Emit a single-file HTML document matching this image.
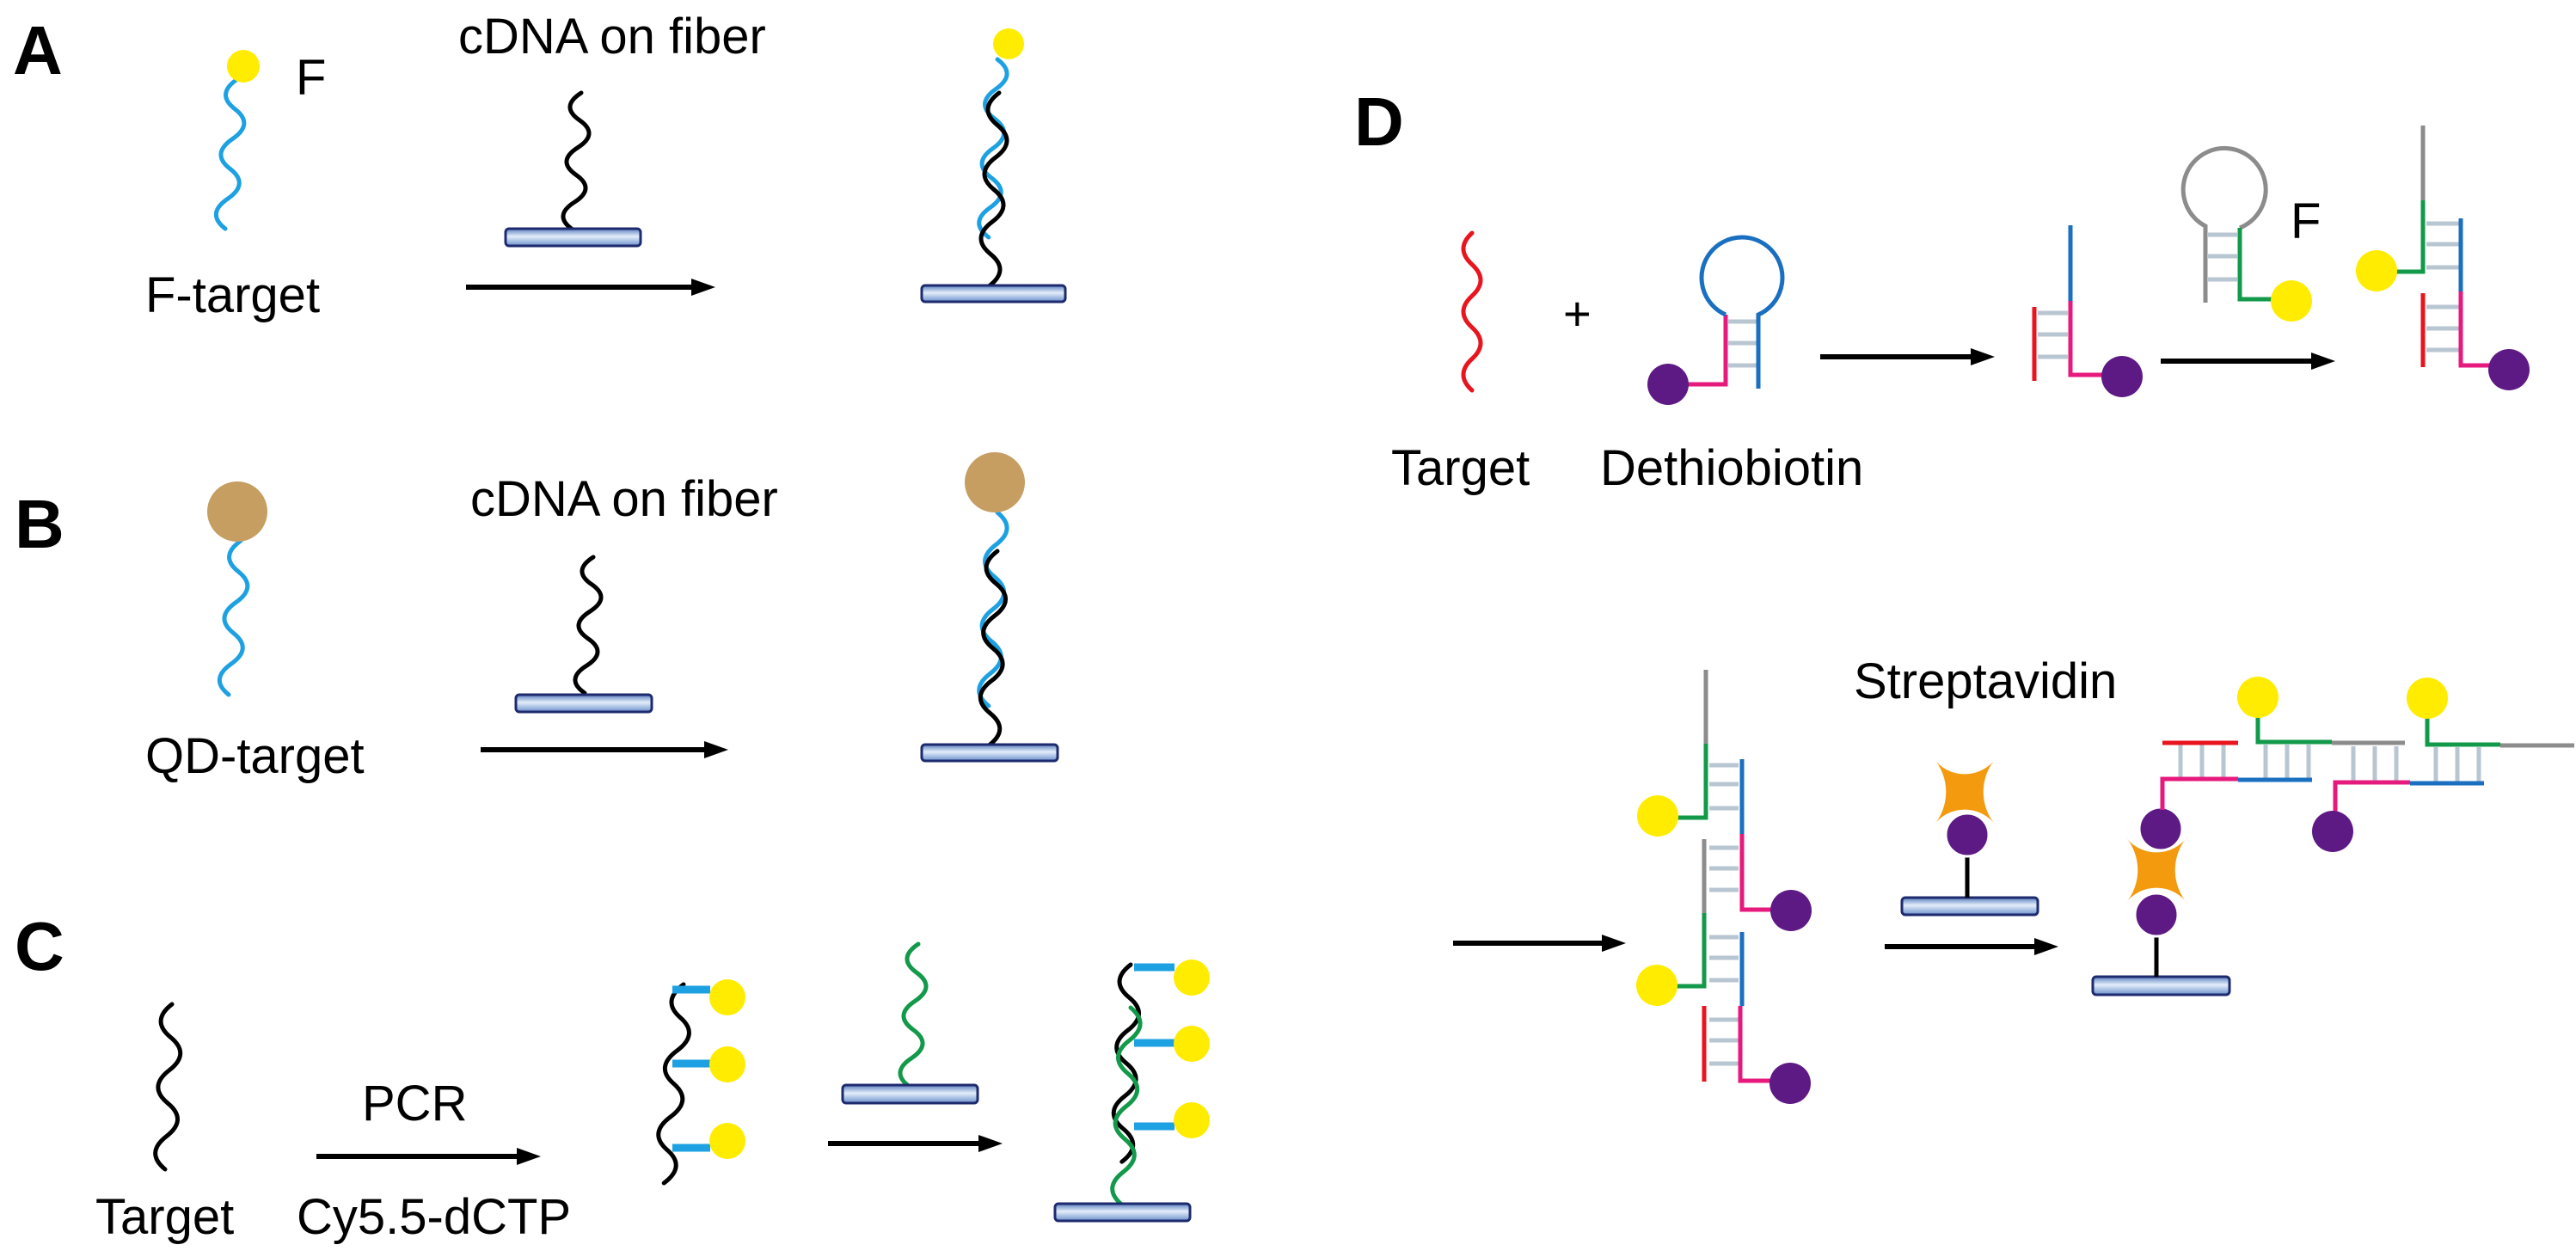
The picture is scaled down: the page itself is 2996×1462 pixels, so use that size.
<!DOCTYPE html>
<html><head><meta charset="utf-8"><style>
html,body{margin:0;padding:0;background:#fff;}
svg{display:block;}
text{font-family:"Liberation Sans",Arial,sans-serif;fill:#000;}
</style></head><body>
<svg width="2996" height="1462" viewBox="0 0 2996 1462" xmlns="http://www.w3.org/2000/svg">
<defs>
<linearGradient id="bar" x1="0" y1="0" x2="0" y2="1">
<stop offset="0" stop-color="#5a7fc0"/><stop offset="0.45" stop-color="#e4eefa"/><stop offset="1" stop-color="#6a90cc"/>
</linearGradient>
<g id="ah"><polygon points="-28,-10 0,0 -28,10" fill="#000"/></g>
</defs>
<rect width="2996" height="1462" fill="#fff"/>

<!-- text -->
<g font-size="58">
<text x="15" y="86" font-size="80" font-weight="bold">A</text>
<text x="17" y="637" font-size="80" font-weight="bold">B</text>
<text x="17" y="1128" font-size="80" font-weight="bold">C</text>
<text x="1575" y="169" font-size="80" font-weight="bold">D</text>
<text x="533" y="62">cDNA on fiber</text>
<text x="344" y="110">F</text>
<text x="169" y="363">F-target</text>
<text x="547" y="600">cDNA on fiber</text>
<text x="169" y="899">QD-target</text>
<text x="421" y="1303">PCR</text>
<text x="111" y="1435">Target</text>
<text x="345" y="1435">Cy5.5-dCTP</text>
<text x="1818" y="384" font-size="56">+</text>
<text x="2664" y="277">F</text>
<text x="1618" y="564">Target</text>
<text x="1861" y="564">Dethiobiotin</text>
<text x="2156" y="812">Streptavidin</text>
</g>

<!-- arrows -->
<g stroke="#000" stroke-width="6">
<line x1="542" y1="334" x2="808" y2="334"/>
<line x1="559" y1="872" x2="823" y2="872"/>
<line x1="368" y1="1345" x2="605" y2="1345"/>
<line x1="963" y1="1330" x2="1142" y2="1330"/>
<line x1="2117" y1="415" x2="2296" y2="415"/>
<line x1="2513" y1="420" x2="2692" y2="420"/>
<line x1="1690" y1="1097" x2="1867" y2="1097"/>
<line x1="2192" y1="1101" x2="2370" y2="1101"/>
</g>
<use href="#ah" x="832" y="334"/><use href="#ah" x="847" y="872"/>
<use href="#ah" x="629" y="1345"/><use href="#ah" x="1166" y="1330"/>
<use href="#ah" x="2320" y="415"/><use href="#ah" x="2716" y="420"/>
<use href="#ah" x="1891" y="1097"/><use href="#ah" x="2394" y="1101"/>

<!-- waves -->
<g fill="none" stroke-width="5" stroke-linecap="round">
<!-- A -->
<path stroke="#1da1e2" d="M276 92 q-25.4 17.4 -2.8 34.8 t-2.8 34.8 t-2.8 34.8 t-2.8 34.8 t-2.8 34.8"/>
<path stroke="#000" d="M676 108 q-25 15.9 -2 31.8 t-2 31.8 t-2 31.8 t-2 31.8 t-2 31.8"/>
<path stroke="#1da1e2" d="M1160 69 q23 17.25 -1.7 34.5 t-1.7 34.5 t-1.7 34.5 t-1.7 34.5 t-1.7 34.5 t-1.7 34.5"/>
<path stroke="#000" d="M1162 108 q-25 18.75 -2 37.5 t-2 37.5 t-2 37.5 t-2 37.5 t-2 37.5 t-2 37.5"/>
<!-- B -->
<path stroke="#1da1e2" d="M280 629 q-25.4 17.9 -2.8 35.8 t-2.8 35.8 t-2.8 35.8 t-2.8 35.8 t-2.8 35.8"/>
<path stroke="#000" d="M690 648 q-25 15.8 -2 31.6 t-2 31.6 t-2 31.6 t-2 31.6 t-2 31.6"/>
<path stroke="#1da1e2" d="M1160 596 q23 18.75 -1.7 37.5 t-1.7 37.5 t-1.7 37.5 t-1.7 37.5 t-1.7 37.5 t-1.7 37.5"/>
<path stroke="#000" d="M1160 641 q-25 18.85 -1.7 37.7 t-1.7 37.7 t-1.7 37.7 t-1.7 37.7 t-1.7 37.7 t-1.7 37.7"/>
<!-- C -->
<path stroke="#000" d="M200 1168 q-25 19.2 -1.6 38.4 t-1.6 38.4 t-1.6 38.4 t-1.6 38.4 t-1.6 38.4"/>
<path stroke="#000" d="M795 1145 q-26 19.25 -3.8 38.5 t-3.8 38.5 t-3.8 38.5 t-3.8 38.5 t-3.8 38.5 t-3.8 38.5"/>
<path stroke="#12994a" d="M1068 1098 q-25 16.6 -2 33.2 t-2 33.2 t-2 33.2 t-2 33.2 t-2 33.2"/>
<path stroke="#000" d="M1315 1122 q-25 19.1 -1.7 38.2 t-1.7 38.2 t-1.7 38.2 t-1.7 38.2 t-1.7 38.2 t-1.7 38.2"/>
<path stroke="#12994a" d="M1315 1172 q23 19.1 -1.7 38.2 t-1.7 38.2 t-1.7 38.2 t-1.7 38.2 t-1.7 38.2 t-1.7 38.2"/>
<!-- D red target -->
<path stroke="#e8141e" d="M1712 271 q-20 18.3 0 36.6 t0 36.6 t0 36.6 t0 36.6 t0 36.6"/>
</g>

<!-- C blue stubs -->
<g stroke="#1da1e2" stroke-width="9">
<line x1="782" y1="1151" x2="826" y2="1151"/>
<line x1="782" y1="1237" x2="826" y2="1237"/>
<line x1="782" y1="1335" x2="826" y2="1335"/>
<line x1="1319" y1="1125" x2="1366" y2="1125"/>
<line x1="1319" y1="1213" x2="1366" y2="1213"/>
<line x1="1319" y1="1310" x2="1366" y2="1310"/>
</g>

<!-- bars -->
<g fill="url(#bar)" stroke="#1e2a6e" stroke-width="3">
<rect x="588" y="266" width="157" height="20" rx="4"/>
<rect x="1072" y="332" width="167" height="19" rx="4"/>
<rect x="600" y="808" width="158" height="20" rx="4"/>
<rect x="1072" y="866" width="158" height="19" rx="4"/>
<rect x="980" y="1262" width="157" height="21" rx="4"/>
<rect x="1227" y="1400" width="157" height="20" rx="4"/>
<rect x="2212" y="1044" width="158" height="20" rx="4"/>
<rect x="2434" y="1136" width="159" height="21" rx="4"/>
</g>

<!-- balls A-C -->
<g fill="#ffec00">
<circle cx="283" cy="77" r="19"/>
<circle cx="1173" cy="51" r="18"/>
<circle cx="846" cy="1160" r="21"/><circle cx="846" cy="1238" r="21"/><circle cx="846" cy="1327" r="21"/>
<circle cx="1386" cy="1137" r="21"/><circle cx="1386" cy="1214" r="21"/><circle cx="1386" cy="1303" r="21"/>
</g>
<g fill="#c69e62">
<circle cx="276" cy="595" r="35"/>
<circle cx="1157" cy="561" r="35"/>
</g>

<!-- D top: hairpin -->
<g fill="none" stroke-width="5">
<g stroke="#b8c6d2" stroke-width="5">
<line x1="2010" y1="374" x2="2043" y2="374"/><line x1="2010" y1="399" x2="2043" y2="399"/><line x1="2010" y1="425" x2="2043" y2="425"/>
<line x1="2370" y1="364" x2="2405" y2="364"/><line x1="2370" y1="389" x2="2405" y2="389"/><line x1="2370" y1="415" x2="2405" y2="415"/>
<line x1="2568" y1="273" x2="2602" y2="273"/><line x1="2568" y1="298" x2="2602" y2="298"/><line x1="2568" y1="325" x2="2602" y2="325"/>
<line x1="2822" y1="260" x2="2860" y2="260"/><line x1="2822" y1="284" x2="2860" y2="284"/><line x1="2822" y1="311" x2="2860" y2="311"/>
<line x1="2822" y1="357" x2="2860" y2="357"/><line x1="2822" y1="382" x2="2860" y2="382"/><line x1="2822" y1="407" x2="2860" y2="407"/>
</g>
<path stroke="#e6197d" d="M1962 447 H2007 V366"/>
<path stroke="#1a6fc0" d="M2007 366 A47 47 0 1 1 2045 366 V452"/>
<!-- product1 -->
<line stroke="#e8141e" x1="2366" y1="357" x2="2366" y2="443"/>
<path stroke="#e6197d" d="M2408 350 V436 H2448"/>
<line stroke="#1a6fc0" x1="2408" y1="262" x2="2408" y2="350"/>
<!-- gray probe -->
<path stroke="#8c8c8c" d="M2565 352 V263 A48 48 0 1 1 2605 265"/>
<path stroke="#12994a" d="M2605 265 V348 H2645"/>
<!-- final top product -->
<line stroke="#8c8c8c" x1="2818" y1="146" x2="2818" y2="233"/>
<path stroke="#12994a" d="M2818 233 V316 H2784"/>
<line stroke="#1a6fc0" x1="2862" y1="254" x2="2862" y2="339"/>
<line stroke="#e8141e" x1="2818" y1="341" x2="2818" y2="427"/>
<path stroke="#e6197d" d="M2862 339 V425 H2898"/>
</g>
<g fill="#5e1a84">
<circle cx="1940" cy="447" r="24"/>
<circle cx="2468" cy="438" r="24"/>
<circle cx="2918" cy="430" r="24"/>
</g>
<g fill="#ffec00">
<circle cx="2665" cy="350" r="24"/>
<circle cx="2764" cy="315" r="24"/>
</g>

<!-- D bottom stack -->
<g fill="none" stroke-width="5">
<g stroke="#b8c6d2">
<line x1="1988" y1="890" x2="2022" y2="890"/><line x1="1988" y1="912" x2="2022" y2="912"/><line x1="1988" y1="940" x2="2022" y2="940"/>
<line x1="1988" y1="986" x2="2022" y2="986"/><line x1="1988" y1="1010" x2="2022" y2="1010"/><line x1="1988" y1="1035" x2="2022" y2="1035"/>
<line x1="1988" y1="1090" x2="2022" y2="1090"/><line x1="1988" y1="1114" x2="2022" y2="1114"/><line x1="1988" y1="1140" x2="2022" y2="1140"/>
<line x1="1988" y1="1186" x2="2022" y2="1186"/><line x1="1988" y1="1210" x2="2022" y2="1210"/><line x1="1988" y1="1237" x2="2022" y2="1237"/>
</g>
<line stroke="#8c8c8c" x1="1984" y1="779" x2="1984" y2="865"/>
<path stroke="#12994a" d="M1984 865 V951 H1950"/>
<line stroke="#1a6fc0" x1="2026" y1="883" x2="2026" y2="970"/>
<line stroke="#8c8c8c" x1="1982" y1="976" x2="1982" y2="1062"/>
<path stroke="#e6197d" d="M2026 970 V1058 H2062"/>
<path stroke="#12994a" d="M1982 1062 V1147 H1950"/>
<line stroke="#1a6fc0" x1="2026" y1="1084" x2="2026" y2="1170"/>
<line stroke="#e8141e" x1="1982" y1="1170" x2="1982" y2="1258"/>
<path stroke="#e6197d" d="M2024 1170 V1257 H2060"/>
</g>
<g fill="#ffec00"><circle cx="1928" cy="949" r="24"/><circle cx="1927" cy="1146" r="24"/></g>
<g fill="#5e1a84"><circle cx="2083" cy="1059" r="24"/><circle cx="2082" cy="1260" r="24"/></g>

<!-- streptavidin on fiber -->
<line stroke="#000" stroke-width="5" x1="2288" y1="990" x2="2288" y2="1044"/>
<path fill="#f39a0e" transform="translate(2285 921)" d="M-37 -40 A45 45 0 0 0 37 -40 A60 60 0 0 0 37 40 A45 45 0 0 0 -37 40 A60 60 0 0 0 -37 -40 Z"/>
<circle cx="2288" cy="971" r="25" fill="#5e1a84" stroke="#fff" stroke-width="3"/>

<!-- final assembly -->
<line stroke="#000" stroke-width="5" x1="2508" y1="1084" x2="2508" y2="1136"/>
<path fill="#f39a0e" transform="translate(2508 1012)" d="M-37 -40 A45 45 0 0 0 37 -40 A60 60 0 0 0 37 40 A45 45 0 0 0 -37 40 A60 60 0 0 0 -37 -40 Z"/>
<circle cx="2508" cy="1064" r="25" fill="#5e1a84" stroke="#fff" stroke-width="3"/>
<circle cx="2513" cy="964" r="25" fill="#5e1a84" stroke="#fff" stroke-width="3"/>
<g fill="none" stroke-width="5">
<g stroke="#b8c6d2">
<line x1="2536" y1="866" x2="2536" y2="904"/><line x1="2561" y1="866" x2="2561" y2="904"/><line x1="2586" y1="866" x2="2586" y2="904"/>
<line x1="2635" y1="866" x2="2635" y2="906"/><line x1="2660" y1="866" x2="2660" y2="906"/><line x1="2685" y1="866" x2="2685" y2="906"/>
<line x1="2737" y1="868" x2="2737" y2="908"/><line x1="2762" y1="868" x2="2762" y2="908"/><line x1="2787" y1="868" x2="2787" y2="908"/>
<line x1="2833" y1="869" x2="2833" y2="910"/><line x1="2858" y1="869" x2="2858" y2="910"/><line x1="2883" y1="869" x2="2883" y2="910"/>
</g>
<path stroke="#e6197d" d="M2515 942 V906 H2603"/>
<line stroke="#1a6fc0" x1="2603" y1="907" x2="2689" y2="907"/>
<line stroke="#e8141e" x1="2515" y1="864" x2="2603" y2="864"/>
<path stroke="#12994a" d="M2626 830 V863 H2712"/>
<line stroke="#8c8c8c" x1="2712" y1="864" x2="2797" y2="864"/>
<path stroke="#e6197d" d="M2716 944 V910 H2803"/>
<line stroke="#1a6fc0" x1="2803" y1="911" x2="2889" y2="911"/>
<path stroke="#12994a" d="M2823 832 V866 H2908"/>
<line stroke="#8c8c8c" x1="2908" y1="867" x2="2994" y2="867"/>
</g>
<g fill="#ffec00"><circle cx="2626" cy="811" r="24"/><circle cx="2823" cy="812" r="24"/></g>
<circle cx="2713" cy="967" r="24" fill="#5e1a84"/>
</svg>
</body></html>
